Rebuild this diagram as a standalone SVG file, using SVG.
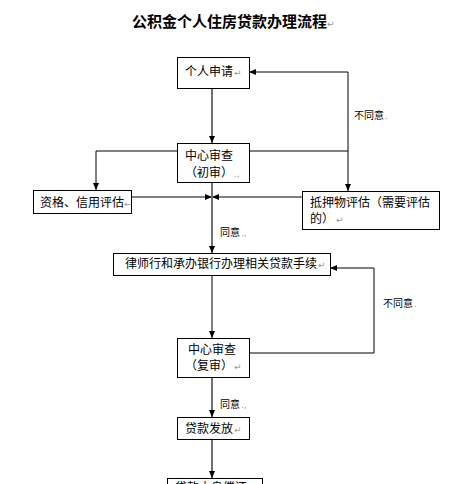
<svg xmlns="http://www.w3.org/2000/svg" width="474" height="484" viewBox="0 0 474 484">
<defs>
<style>
.box{fill:#fff;stroke:#000;stroke-width:1}
.t{font-family:"Noto Sans CJK SC","Noto Sans",sans-serif;font-size:12px;fill:#000}
.s{font-family:"Noto Sans CJK SC","Noto Sans",sans-serif;font-size:10px;fill:#000}
.m{font-family:"DejaVu Sans",sans-serif;font-size:9px;fill:#999}
.ln{fill:none;stroke:#000;stroke-width:1}
.gl{fill:none;stroke:#707070;stroke-width:2}
</style>
<marker id="ah" markerUnits="userSpaceOnUse" markerWidth="7" markerHeight="6" refX="7" refY="3" orient="auto">
<path d="M0,0 L7,3 L0,6 z" fill="#000"/>
</marker>
</defs>
<rect width="474" height="484" fill="#fff"/>
<g id="title">
<text x="132" y="27" font-family="'Noto Sans CJK SC',sans-serif" font-size="15" font-weight="bold">公积金个人住房贷款办理流程</text>
<text x="327" y="27" class="m">↵</text>
</g>
<g id="connectors">
<line class="gl" x1="212" y1="88" x2="212" y2="143" marker-end="url(#ah)"/>
<polyline class="ln" points="177,151 96,151 96,190" marker-end="url(#ah)"/>
<polyline class="ln" points="249,151 348,151 348,191" marker-end="url(#ah)"/>
<polyline class="ln" points="348,151 348,72 249,72" marker-end="url(#ah)"/>
<line class="ln" x1="131" y1="197" x2="212" y2="197" marker-end="url(#ah)"/>
<line class="ln" x1="302" y1="197" x2="212" y2="197" marker-end="url(#ah)"/>
<line class="gl" x1="212" y1="182" x2="212" y2="253" marker-end="url(#ah)"/>
<line class="ln" x1="212" y1="275" x2="212" y2="338" marker-end="url(#ah)"/>
<polyline class="ln" points="249,353 374,353 374,268 330,268" marker-end="url(#ah)"/>
<line class="gl" x1="212" y1="377" x2="212" y2="417" marker-end="url(#ah)"/>
<line class="gl" x1="212" y1="439" x2="212" y2="478" marker-end="url(#ah)"/>
<text x="354" y="119" class="s">不同意</text><text x="385" y="119" class="m">.</text>
<text x="220" y="236" class="s">同意</text><text x="241" y="236" class="m">.,</text>
<text x="383" y="307" class="s">不同意</text><text x="414" y="307" class="m">.</text>
<text x="220" y="408" class="s">同意</text><text x="241" y="408" class="m">.,</text>
</g>
<g id="n1">
<rect class="box" x="177.5" y="57.5" width="72" height="31"/>
<text x="185" y="76" class="t">个人申请</text><text x="234" y="76" class="m">↵</text>
</g>
<g id="n2">
<rect class="box" x="177.5" y="143.5" width="72" height="39"/>
<text x="185" y="160" class="t">中心审查</text>
<text x="185" y="177" class="t">（初审）</text><text x="234" y="177" class="m">.,</text>
</g>
<g id="n3">
<rect class="box" x="33.5" y="190.5" width="98" height="23"/>
<text x="40" y="207" class="t">资格、信用评估</text><text x="124" y="207" class="m">←</text>
</g>
<g id="n4">
<rect class="box" x="302.5" y="191.5" width="137" height="38"/>
<text x="310" y="207" class="t">抵押物评估（需要评估</text>
<text x="310" y="223" class="t">的）</text><text x="336" y="223" class="m">↵</text>
</g>
<g id="n5">
<rect class="box" x="113.5" y="253.5" width="217" height="22"/>
<text x="125" y="268" class="t">律师行和承办银行办理相关贷款手续</text><text x="318" y="268" class="m">↵</text>
</g>
<g id="n6">
<rect class="box" x="177.5" y="338.5" width="72" height="39"/>
<text x="188" y="354" class="t">中心审查</text>
<text x="185" y="370" class="t">（复审）</text><text x="234" y="370" class="m">↵</text>
</g>
<g id="n7">
<rect class="box" x="177.5" y="417.5" width="72" height="22"/>
<text x="185" y="433" class="t">贷款发放</text><text x="234" y="433" class="m">↵</text>
</g>
<g id="n8">
<rect class="box" x="167.5" y="478.5" width="95" height="22"/>
<text x="175" y="492" class="t">贷款本息偿还</text><text x="248" y="492" class="m">↵</text>
</g>
</svg>
